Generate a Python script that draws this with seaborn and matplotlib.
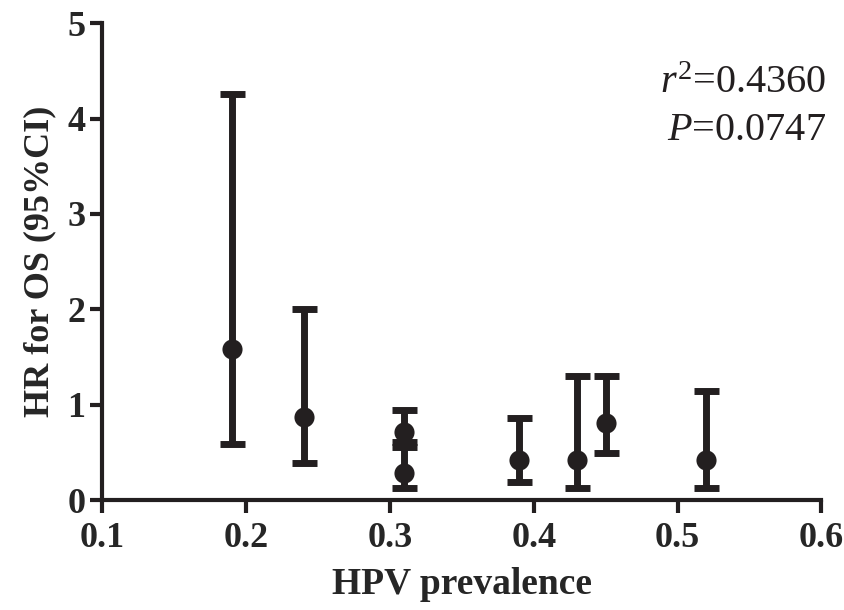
import numpy as np
import pandas as pd
import seaborn as sns
from matplotlib import pyplot as plt

# HPV prevalence vs HR for OS
prevalence = [0.19, 0.24, 0.31, 0.31, 0.39, 0.43, 0.45, 0.52]
hr = [1.58, 0.87, 0.72, 0.29, 0.42, 0.42, 0.81, 0.42]
ci_low = [0.59, 0.39, 0.56, 0.13, 0.19, 0.13, 0.49, 0.13]
ci_high = [4.26, 2.00, 0.95, 0.61, 0.86, 1.30, 1.30, 1.14]
x_ticks = [0.1, 0.2, 0.3, 0.4, 0.5, 0.6]
y_ticks = [0, 1, 2, 3, 4, 5]
r2_text = '0.4360'
p_text = '0.0747'

df = pd.DataFrame({'prev': prevalence, 'hr': hr, 'lo': ci_low, 'hi': ci_high})

sns.set_style('ticks')
plt.rcParams['font.family'] = ['Liberation Serif', 'DejaVu Serif']
plt.rcParams['mathtext.fontset'] = 'custom'
plt.rcParams['mathtext.rm'] = 'Liberation Serif'
plt.rcParams['mathtext.it'] = 'Liberation Serif:italic'

ink = '#231f20'
fig = plt.figure(figsize=(8.45, 6.10), dpi=100)
ax = fig.add_axes([0.121, 0.180, 0.851, 0.782])

yerr = np.array([df['hr'] - df['lo'], df['hi'] - df['hr']])
ax.errorbar(df['prev'], df['hr'], yerr=yerr, fmt='none', ecolor=ink,
            elinewidth=5, capsize=9, capthick=5, zorder=2)
sns.scatterplot(data=df, x='prev', y='hr', ax=ax, color=ink, s=210,
                edgecolor=ink, linewidth=0, zorder=3, legend=False)

ax.set_xlim(0.1, 0.6)
ax.set_ylim(0, 5)
ax.set_xticks(x_ticks)
ax.set_yticks(y_ticks)
ax.set_xticklabels([f'{v:.1f}' for v in x_ticks])
ax.set_yticklabels([str(v) for v in y_ticks])
sns.despine(ax=ax)
for sp in ['left', 'bottom']:
    ax.spines[sp].set_linewidth(3)
    ax.spines[sp].set_color(ink)
ax.tick_params(width=3, length=9, color=ink, labelsize=26)
ax.tick_params(axis='x', pad=7)
ax.tick_params(axis='y', pad=3)
for lab in ax.get_xticklabels() + ax.get_yticklabels():
    lab.set_fontweight('bold')
ax.set_xlabel('HPV prevalence', fontsize=27, fontweight='bold', labelpad=8)
ax.set_ylabel('HR for OS (95%CI)', fontsize=26, fontweight='bold', labelpad=8)
for c in ax.collections + ax.lines:
    c.set_clip_on(False)

fig.text(826 / 845, 1 - 93 / 610, r'$\mathit{r}^{2}$=' + r2_text, fontsize=29,
         ha='right', va='baseline', color=ink)
fig.text(826 / 845, 1 - 140 / 610, r'$\mathit{P}$=' + p_text, fontsize=29,
         ha='right', va='baseline', color=ink)

fig.savefig('out.png', dpi=100)
